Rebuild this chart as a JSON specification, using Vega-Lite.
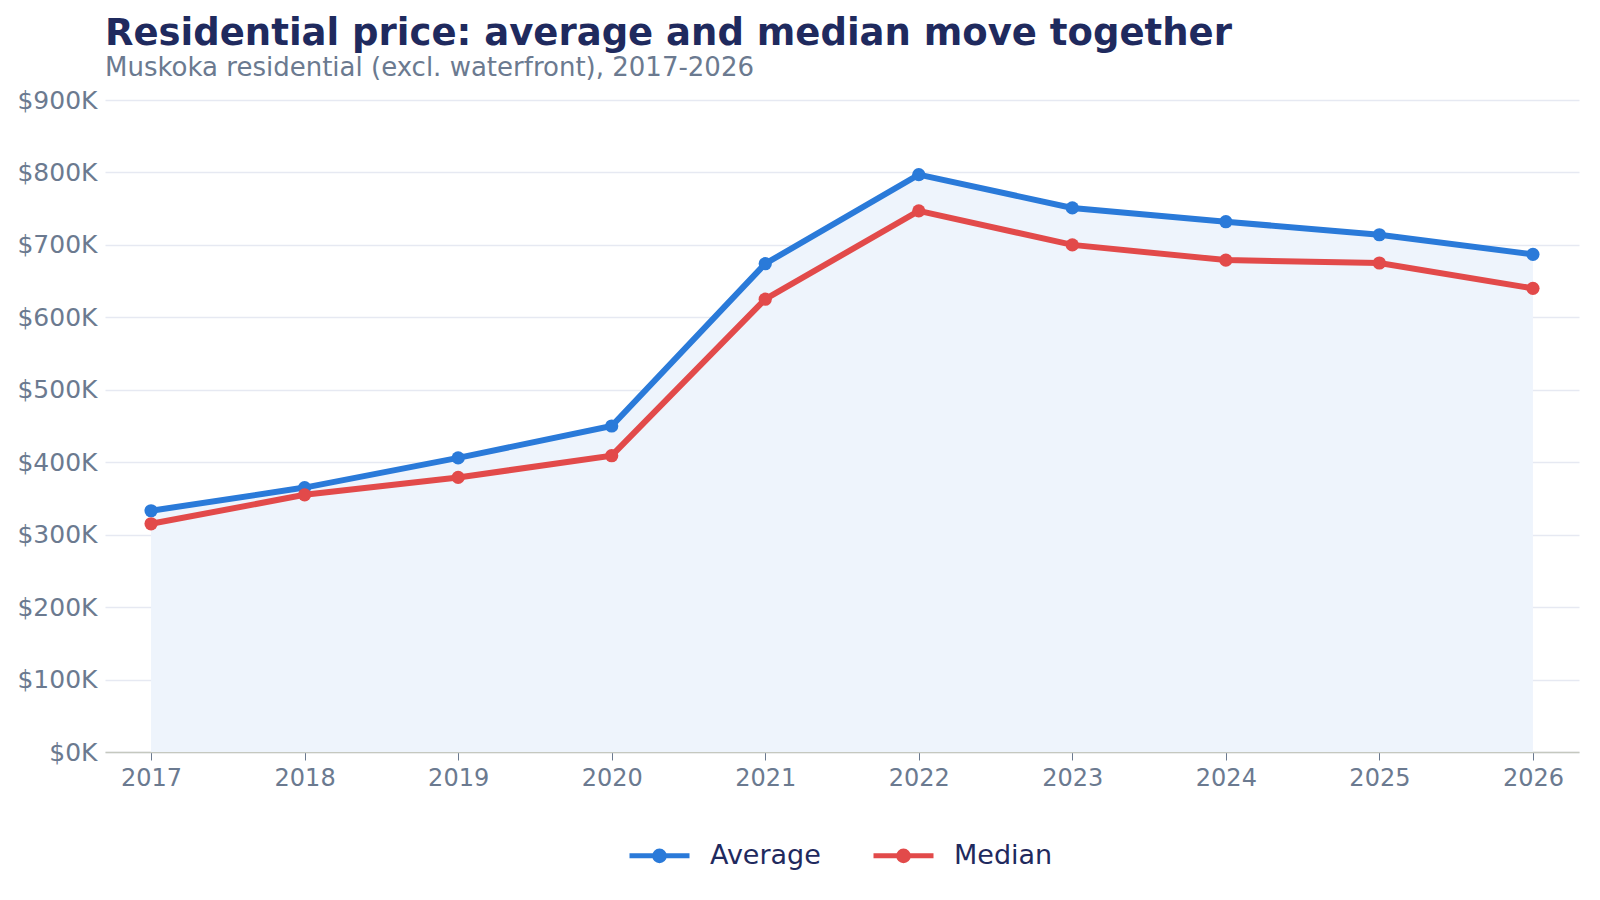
{
  "$schema": "https://vega.github.io/schema/vega-lite/v6.json",
  "width": 1600,
  "height": 900,
  "autosize": {"type": "fit", "contains": "padding"},
  "padding": {"left": 16, "top": 15, "right": 21, "bottom": 110},
  "background": "white",
  "config": {"view": {"stroke": null}},
  "title": {
    "text": "Residential price: average and median move together",
    "subtitle": "Muskoka residential (excl. waterfront), 2017-2026",
    "anchor": "start",
    "frame": "group",
    "font": "DejaVu Sans",
    "fontSize": 37,
    "fontWeight": "bold",
    "color": "#1f2a5e",
    "subtitleFont": "DejaVu Sans",
    "subtitleFontSize": 26,
    "subtitleColor": "#6b7a90",
    "subtitlePadding": 2,
    "offset": 6
  },
  "data": {
    "values": [
      {"year": "2017", "series": "Average", "price": 333000},
      {"year": "2018", "series": "Average", "price": 365000},
      {"year": "2019", "series": "Average", "price": 406000},
      {"year": "2020", "series": "Average", "price": 450000},
      {"year": "2021", "series": "Average", "price": 674000},
      {"year": "2022", "series": "Average", "price": 797000},
      {"year": "2023", "series": "Average", "price": 751000},
      {"year": "2024", "series": "Average", "price": 732000},
      {"year": "2025", "series": "Average", "price": 714000},
      {"year": "2026", "series": "Average", "price": 687000},
      {"year": "2017", "series": "Median", "price": 315000},
      {"year": "2018", "series": "Median", "price": 355000},
      {"year": "2019", "series": "Median", "price": 379000},
      {"year": "2020", "series": "Median", "price": 409000},
      {"year": "2021", "series": "Median", "price": 625000},
      {"year": "2022", "series": "Median", "price": 747000},
      {"year": "2023", "series": "Median", "price": 700000},
      {"year": "2024", "series": "Median", "price": 679000},
      {"year": "2025", "series": "Median", "price": 675000},
      {"year": "2026", "series": "Median", "price": 640000}
    ]
  },
  "encoding": {
    "x": {
      "field": "year",
      "type": "ordinal",
      "scale": {"type": "point", "padding": 0.3},
      "axis": {
        "title": null,
        "labelAngle": 0,
        "labelFont": "DejaVu Sans",
        "labelFontSize": 24,
        "labelColor": "#6b7a90",
        "labelPadding": 6,
        "domainColor": "#c5c8bf",
        "domainWidth": 1.5,
        "tickColor": "#6b7a90",
        "tickSize": 8,
        "grid": false
      }
    },
    "y": {
      "field": "price",
      "type": "quantitative",
      "scale": {"domain": [0, 900000], "nice": false},
      "axis": {
        "title": null,
        "values": [0, 100000, 200000, 300000, 400000, 500000, 600000, 700000, 800000, 900000],
        "labelOverlap": false,
        "labelExpr": "'$' + datum.value / 1000 + 'K'",
        "labelFont": "DejaVu Sans",
        "labelFontSize": 25,
        "labelColor": "#6b7a90",
        "labelPadding": 8,
        "domain": false,
        "ticks": false,
        "gridColor": "#e6e9f2",
        "gridWidth": 1.5
      }
    }
  },
  "layer": [
    {
      "transform": [{"filter": "datum.series === 'Average'"}],
      "mark": {"type": "area", "color": "#eef4fc", "opacity": 1}
    },
    {
      "mark": {"type": "line", "strokeWidth": 6},
      "encoding": {
        "color": {
          "field": "series",
          "type": "nominal",
          "scale": {"domain": ["Average", "Median"], "range": ["#2a7ad9", "#e24a4a"]},
          "legend": {
            "title": null,
            "orient": "none",
            "legendX": 522,
            "legendY": 723,
            "direction": "horizontal",
            "labelFont": "DejaVu Sans",
            "labelFontSize": 27,
            "labelColor": "#1f2a5e",
            "symbolType": "M-1,0L1,0M0.16,0A0.16,0.16,0,1,1,-0.16,0A0.16,0.16,0,1,1,0.16,0Z",
            "symbolSize": 3600,
            "symbolStrokeWidth": 5,
            "labelOffset": 18,
            "columnPadding": 42
          }
        }
      }
    },
    {
      "mark": {"type": "point", "filled": true, "size": 175, "opacity": 1},
      "encoding": {
        "color": {"field": "series", "type": "nominal", "legend": null}
      }
    }
  ]
}
